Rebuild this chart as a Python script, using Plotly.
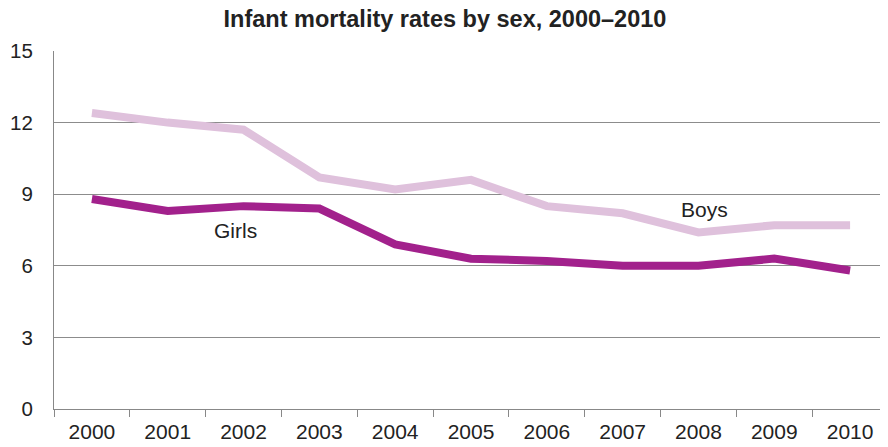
import plotly.graph_objects as go

years = ["2000", "2001", "2002", "2003", "2004", "2005", "2006", "2007", "2008", "2009", "2010"]
boys = [12.4, 12.0, 11.7, 9.7, 9.2, 9.6, 8.5, 8.2, 7.4, 7.7, 7.7]
girls = [8.8, 8.3, 8.5, 8.4, 6.9, 6.3, 6.2, 6.0, 6.0, 6.3, 5.8]
y_ticks = [0, 3, 6, 9, 12, 15]

W, H = 880, 439  # page body has an 8px margin

fig = go.Figure()
fig.add_trace(go.Scatter(x=years, y=boys, mode="lines", name="Boys",
                         line=dict(color="#dfc1dc", width=8)))
fig.add_trace(go.Scatter(x=years, y=girls, mode="lines", name="Girls",
                         line=dict(color="#a2218c", width=8)))

fig.add_annotation(x=1.89, y=7.5, text="Girls", showarrow=False,
                   font=dict(size=21, color="#222"))
fig.add_annotation(x=8.08, y=8.38, text="Boys", showarrow=False,
                   font=dict(size=21, color="#222"))

fig.update_layout(
    width=W, height=H,
    margin=dict(l=46, r=0, t=43, b=38),
    paper_bgcolor="white", plot_bgcolor="white",
    showlegend=False,
    font=dict(family="Liberation Sans, Arial, sans-serif", color="#222"),
    title=dict(text="<b>Infant mortality rates by sex, 2000–2010</b>",
               x=437 / W, xanchor="center", xref="container",
               y=1 - 3 / H, yanchor="top", yref="container",
               font=dict(size=23.5, color="#222")),
)
fig.update_xaxes(type="category", range=[-0.5, 10.5], showgrid=False,
                 showline=True, linecolor="#888", linewidth=1,
                 ticks="outside", tickson="boundaries", ticklen=7,
                 tickcolor="#888", automargin=False, ticklabelstandoff=4,
                 tickfont=dict(size=21, color="#222"))
fig.update_yaxes(range=[0, 15], tickvals=y_ticks, showgrid=True,
                 gridcolor="#8c8c8c", gridwidth=1, showline=True,
                 linecolor="#888", linewidth=1, zeroline=False,
                 ticks="", ticklabelstandoff=16, automargin=False,
                 tickfont=dict(size=20.5, color="#222"))

fig.write_html("out.html")
